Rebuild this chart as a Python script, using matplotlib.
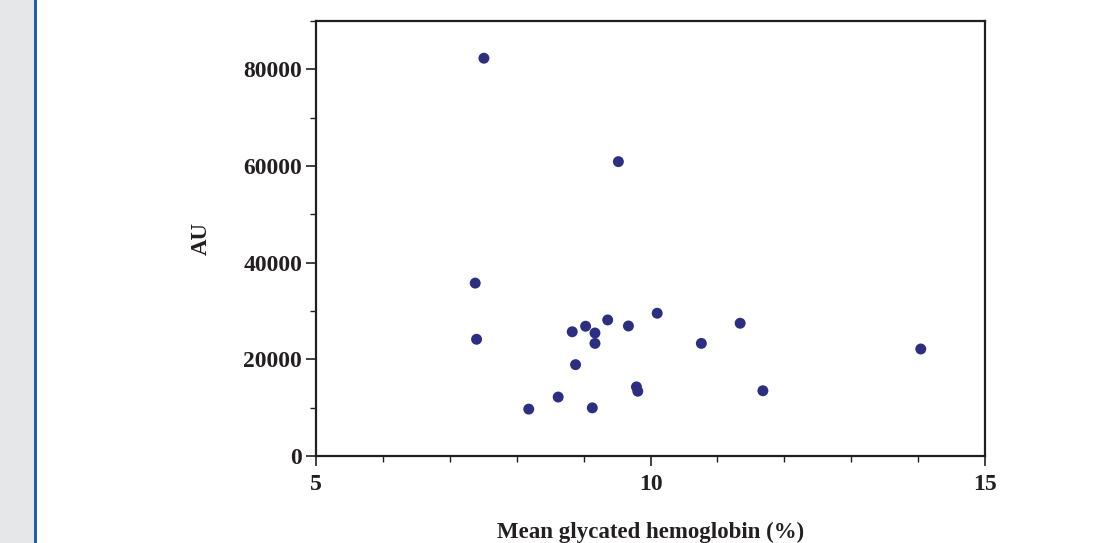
import matplotlib
matplotlib.use("Agg")
import matplotlib.pyplot as plt
from matplotlib.patches import Rectangle
from matplotlib.ticker import MultipleLocator

hba1c = [7.51, 9.52, 7.38, 7.40, 8.18, 8.62, 8.83, 8.88, 9.03, 9.17, 9.17,
         9.13, 9.36, 9.67, 9.79, 9.81, 10.10, 10.76, 11.34, 11.68, 14.04]
au = [82300, 60900, 35770, 24150, 9700, 12200, 25700, 18900, 26850, 25450, 23300,
      9960, 28150, 26900, 14300, 13400, 29540, 23300, 27470, 13500, 22140]

x_ticks = [5, 10, 15]
y_ticks = [0, 20000, 40000, 60000, 80000]

plt.rcParams['font.family'] = ['Liberation Serif', 'DejaVu Serif']
plt.rcParams['font.weight'] = 'bold'

W, H = 1112, 543
fig = plt.figure(figsize=(W/100, H/100), dpi=100)
fig.patch.set_facecolor('white')

# left grey band and blue rule
fig.patches.append(Rectangle((0, 0), 34/W, 1, transform=fig.transFigure,
                             facecolor='#e6e7e8', edgecolor='none', zorder=0))
fig.patches.append(Rectangle((34/W, 0), 2.5/W, 1, transform=fig.transFigure,
                             facecolor='#1f5fae', edgecolor='none', zorder=1))

ax = fig.add_axes([316/W, 1 - 456/H, (985-316)/W, (456-21)/H])
dark = '#231f20'
ax.scatter(hba1c, au, s=62, color='#2b2e83', edgecolors='none', zorder=3, clip_on=False)

ax.set_xlim(5, 15)
ax.set_ylim(0, 90000)
ax.set_xticks(x_ticks)
ax.set_xticklabels([str(v) for v in x_ticks])
ax.set_yticks(y_ticks)
ax.set_yticklabels([str(v) for v in y_ticks])
ax.xaxis.set_minor_locator(MultipleLocator(1))
ax.yaxis.set_minor_locator(MultipleLocator(10000))

for s in ax.spines.values():
    s.set_linewidth(1.6)
    s.set_color(dark)

ax.tick_params(axis='both', which='major', direction='out', length=7, width=1.2,
               color=dark, labelsize=17, labelcolor=dark)
ax.tick_params(axis='both', which='minor', direction='out', length=4, width=1.0, color=dark)
ax.tick_params(axis='y', which='major', pad=3)
ax.tick_params(axis='x', which='major', pad=6)

ax.set_xlabel('Mean glycated hemoglobin (%)', fontsize=16.5, fontweight='bold', color=dark, labelpad=19)
ax.set_ylabel('AU', fontsize=16.5, fontweight='bold', color=dark, labelpad=23)

fig.savefig('out.png', dpi=100)
